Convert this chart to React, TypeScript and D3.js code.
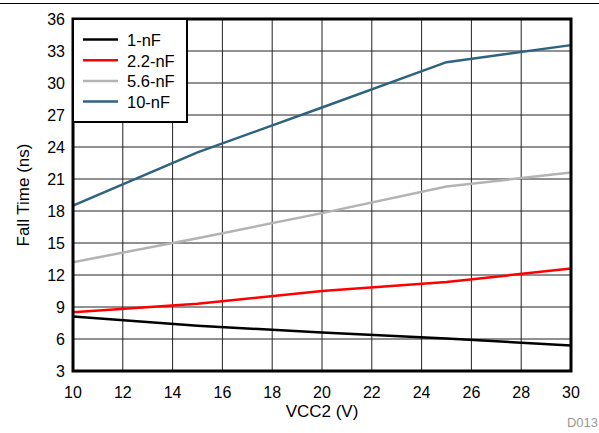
import React from "react";
import * as d3 from "d3";

const xValues = [10, 15, 20, 25, 30];
const series1nF = [8.1, 7.25, 6.6, 6.05, 5.4];
const series2_2nF = [8.5, 9.3, 10.5, 11.35, 12.6];
const series5_6nF = [13.2, 15.45, 17.8, 20.3, 21.6];
const series10nF = [18.5, 23.5, 27.7, 31.95, 33.55];
const seriesNames = ["1-nF", "2.2-nF", "5.6-nF", "10-nF"];
const seriesColors = ["#000000", "#ff0000", "#b3b3b3", "#2e6380"];
const xTicks = [10, 12, 14, 16, 18, 20, 22, 24, 26, 28, 30];
const yTicks = [3, 6, 9, 12, 15, 18, 21, 24, 27, 30, 33, 36];

export default function App() {
  const W = 599, H = 433;
  const left = 73, right = 571, top = 19, bottom = 371;
  const x = d3.scaleLinear().domain([10, 30]).range([left, right]);
  const y = d3.scaleLinear().domain([3, 36]).range([bottom, top]);
  const allSeries = [series1nF, series2_2nF, series5_6nF, series10nF];
  const line = d3.line<number>().x((_, i) => x(xValues[i])).y((d) => y(d));
  const font = "'Liberation Sans', Arial, sans-serif";
  return (
    <svg width={W} height={H} style={{ position: "absolute", left: 0, top: 0 }} fontFamily={font}>
      <rect width={W} height={H} fill="#fff" />
      <line x1={0} x2={W} y1={3.5} y2={3.5} stroke="#000" strokeWidth={1} />
      {xTicks.map((t) => (
        <line key={"gx" + t} x1={x(t)} x2={x(t)} y1={top} y2={bottom} stroke="#222" strokeWidth={1} />
      ))}
      {yTicks.map((t) => (
        <line key={"gy" + t} x1={left} x2={right} y1={y(t)} y2={y(t)} stroke="#222" strokeWidth={1} />
      ))}
      {allSeries.map((s, i) => (
        <path key={"s" + i} d={line(s) || ""} fill="none" stroke={seriesColors[i]} strokeWidth={2.5} />
      ))}
      <rect x={left} y={top} width={right - left} height={bottom - top} fill="none" stroke="#000" strokeWidth={3} />
      <rect x={left} y={top} width={114} height={103} fill="#fff" stroke="#000" strokeWidth={2} />
      {seriesNames.map((n, i) => (
        <g key={"lg" + i}>
          <line x1={83} x2={118} y1={39.5 + i * 20.7} y2={39.5 + i * 20.7} stroke={seriesColors[i]} strokeWidth={2.5} />
          <text x={127} y={46 + i * 20.7} fontSize={16.5} fill="#000">{n}</text>
        </g>
      ))}
      {yTicks.map((t) => (
        <text key={"yl" + t} x={65} y={y(t) + 6} fontSize={16} textAnchor="end" fill="#000">{t}</text>
      ))}
      {xTicks.map((t) => (
        <text key={"xl" + t} x={x(t)} y={398} fontSize={16} textAnchor="middle" fill="#000">{t}</text>
      ))}
      <text x={(left + right) / 2} y={417} fontSize={17} textAnchor="middle" fill="#000">VCC2 (V)</text>
      <text transform={`translate(29,${(top + bottom) / 2}) rotate(-90)`} fontSize={17} textAnchor="middle" fill="#000">Fall Time (ns)</text>
      <text x={598} y={427} fontSize={13} textAnchor="end" fill="#999">D013</text>
    </svg>
  );
}
